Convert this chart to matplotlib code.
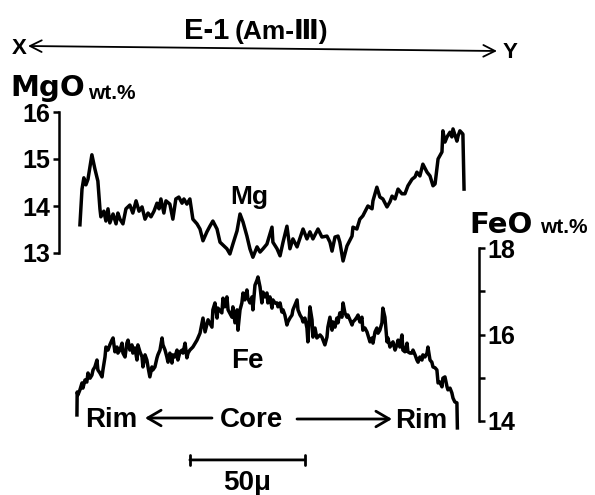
import numpy as np
import matplotlib.pyplot as plt

plt.rcParams['font.family'] = ['Liberation Sans', 'DejaVu Sans']
plt.rcParams['font.weight'] = 'bold'

# 剖面上的距离 (µm) 与 MgO wt.%
mg_dist = [1.3, 2.2, 3.0, 3.9, 4.8, 6.5, 7.8, 9.1, 10.0, 10.4, 11.7, 12.6, 13.5, 14.3,
           15.7, 17.0, 17.8, 18.7, 20.0, 21.3, 23.0, 24.3, 25.7, 27.0, 28.3, 29.6, 30.9,
           32.2, 33.5, 34.8, 35.7, 36.5, 37.8, 38.7, 40.4, 41.7, 43.0, 44.3, 45.7, 46.5,
           47.8, 49.1, 50.4, 52.2, 53.5, 54.8, 56.5, 57.8, 59.1, 60.9, 62.2, 63.9, 65.2,
           66.5, 67.8, 69.6, 70.9, 72.2, 73.9, 75.2, 76.5, 78.3, 79.6, 80.9, 82.6, 84.8,
           85.2, 87.0, 88.3, 89.6, 91.3, 92.6, 93.9, 95.7, 98.3, 100.0, 101.3, 102.6,
           104.8, 106.5, 108.7, 110.0, 110.9, 112.2, 113.5, 114.3, 115.7, 117.4, 119.6,
           120.0, 121.7, 123.0, 124.3, 126.5, 128.3, 128.7, 130.4, 131.7, 133.0, 134.8,
           136.1, 137.0, 138.3, 139.6, 141.3, 142.6, 143.9, 145.7, 147.0, 147.8, 149.1,
           150.4, 152.2, 153.5, 154.8, 155.7, 157.0, 158.7, 159.1, 160.0, 160.9, 162.2,
           163.0, 163.5, 165.2, 165.7, 166.5, 167.8, 168.3]
mg_wt = [13.60, 14.36, 14.60, 14.45, 14.57, 15.09, 14.79, 14.53, 13.94, 13.77, 13.89, 13.68,
         13.94, 13.64, 13.83, 13.62, 13.85, 13.72, 13.62, 13.94, 14.02, 13.85, 14.11, 13.89,
         13.98, 13.72, 13.85, 13.77, 13.89, 14.06, 13.94, 14.15, 13.85, 14.11, 14.04, 13.72,
         14.15, 14.19, 14.06, 14.15, 14.04, 14.15, 13.72, 13.62, 13.51, 13.26, 13.45, 13.57,
         13.68, 13.51, 13.23, 13.15, 13.09, 12.98, 13.19, 13.47, 13.83, 13.66, 13.36, 13.09,
         12.91, 13.13, 13.02, 13.09, 13.19, 13.55, 13.23, 13.09, 12.94, 13.23, 13.57, 13.09,
         13.30, 13.13, 13.51, 13.30, 13.45, 13.30, 13.51, 13.34, 13.36, 13.23, 13.04, 13.34,
         13.36, 13.23, 12.83, 13.15, 13.36, 13.55, 13.51, 13.72, 13.79, 14.00, 13.94, 14.11,
         14.40, 14.19, 14.15, 13.98, 14.09, 14.21, 14.15, 14.36, 14.26, 14.26, 14.43, 14.57,
         14.62, 14.72, 14.64, 14.89, 14.72, 14.64, 14.43, 14.47, 15.00, 15.15, 15.60, 15.36,
         15.47, 15.57, 15.47, 15.64, 15.38, 15.49, 15.60, 15.53, 14.36]

# 剖面上的距离 (µm) 与 FeO wt.%
fe_dist = [0.0, 0.1, 0.4, 1.3, 2.2, 2.6, 3.5, 4.3, 4.8, 5.7, 6.5, 7.0, 7.8, 8.7, 9.1, 10.0,
           10.9, 11.3, 12.2, 12.6, 13.5, 14.3, 15.2, 15.7, 16.5, 17.4, 17.8, 18.7, 19.6,
           20.0, 20.9, 21.7, 22.2, 23.0, 23.9, 24.3, 25.2, 26.1, 26.5, 27.4, 28.3, 28.7,
           29.6, 30.4, 30.9, 31.7, 32.6, 33.0, 33.9, 34.8, 35.2, 36.1, 37.0, 37.4, 38.3,
           39.1, 39.6, 40.4, 41.3, 41.7, 42.6, 43.5, 43.9, 44.8, 45.7, 46.1, 47.0, 47.8,
           48.3, 49.1, 50.4, 52.2, 53.5, 54.8, 55.7, 57.0, 58.7, 59.1, 60.0, 60.9, 61.3,
           63.0, 63.5, 64.3, 65.2, 65.7, 67.4, 67.8, 68.7, 69.6, 70.0, 70.9, 71.7, 72.2,
           73.0, 73.9, 74.3, 75.2, 76.1, 76.5, 77.4, 78.3, 78.7, 79.6, 80.4, 80.9, 81.7,
           82.6, 83.0, 83.9, 84.8, 85.2, 86.1, 87.0, 87.4, 88.3, 89.1, 89.6, 90.4, 91.3,
           91.7, 92.6, 93.5, 93.9, 95.7, 96.1, 97.0, 97.8, 98.3, 99.1, 100.0, 100.4, 101.3,
           102.2, 102.6, 103.5, 104.3, 105.7, 106.5, 107.0, 107.8, 108.7, 109.1, 110.0,
           110.9, 111.3, 112.2, 113.0, 113.5, 114.3, 115.2, 115.7, 116.5, 117.4, 117.8,
           118.7, 119.6, 120.0, 120.9, 121.7, 122.2, 123.0, 123.9, 124.3, 125.2, 126.1,
           126.5, 127.4, 128.3, 128.7, 129.6, 130.4, 130.9, 131.7, 132.6, 133.0, 133.9,
           134.8, 135.2, 136.1, 137.0, 137.4, 138.3, 139.1, 139.6, 140.4, 141.3, 141.7,
           142.6, 143.5, 143.9, 144.8, 145.7, 146.1, 147.0, 147.8, 148.3, 149.1, 150.0,
           150.4, 151.3, 152.2, 152.6, 153.5, 154.3, 154.8, 155.7, 156.5, 157.0, 157.8,
           158.7, 159.1, 160.0, 160.9, 161.3, 162.2, 163.0, 163.5, 164.3, 165.2, 165.4]
fe_wt = [14.14, 14.67, 14.60, 14.72, 14.88, 14.76, 14.95, 14.90, 15.11, 14.99, 15.06, 15.18,
         15.25, 15.41, 15.18, 15.11, 15.02, 15.18, 15.48, 15.71, 15.64, 15.76, 15.87, 15.92,
         15.60, 15.71, 15.57, 15.64, 15.80, 15.57, 15.48, 15.80, 15.87, 15.64, 15.76, 15.57,
         15.69, 15.41, 15.76, 15.60, 15.48, 15.25, 15.53, 15.41, 15.25, 15.02, 15.25, 15.18,
         15.25, 15.46, 15.53, 15.64, 15.92, 15.76, 15.64, 15.48, 15.36, 15.57, 15.34, 15.53,
         15.48, 15.64, 15.41, 15.60, 15.64, 15.57, 15.80, 15.46, 15.57, 15.64, 15.71, 15.87,
         16.03, 16.38, 16.06, 16.34, 16.17, 16.57, 16.73, 16.38, 16.61, 16.50, 16.84, 16.64,
         16.87, 16.57, 16.40, 16.64, 16.27, 16.57, 16.10, 16.57, 16.73, 16.96, 16.80, 17.03,
         16.84, 16.73, 16.87, 16.57, 17.14, 17.26, 17.33, 17.10, 16.73, 16.98, 16.87, 16.96,
         16.73, 16.87, 16.61, 16.80, 16.73, 16.73, 16.64, 16.73, 16.52, 16.57, 16.45, 16.22,
         16.29, 16.38, 16.45, 16.57, 16.80, 16.57, 16.45, 16.38, 16.29, 16.38, 16.15, 15.83,
         16.64, 16.34, 15.94, 16.15, 15.92, 15.99, 15.94, 15.87, 15.76, 15.94, 16.17, 16.40,
         16.10, 16.29, 16.17, 16.38, 16.27, 16.50, 16.40, 16.73, 16.50, 16.40, 16.45, 16.34,
         16.22, 16.29, 16.34, 16.40, 16.45, 16.29, 16.40, 16.10, 16.15, 16.06, 15.99, 15.83,
         15.92, 15.80, 16.06, 16.15, 16.03, 16.10, 16.27, 16.61, 16.40, 15.83, 15.92, 15.71,
         15.80, 15.83, 15.64, 15.76, 15.87, 15.71, 15.99, 15.64, 15.60, 15.80, 15.60, 15.57,
         15.57, 15.64, 15.53, 15.41, 15.36, 15.48, 15.41, 15.53, 15.48, 15.57, 15.71, 15.41,
         15.36, 15.25, 15.23, 15.18, 14.88, 14.90, 14.79, 14.99, 15.02, 14.79, 14.72, 14.76,
         14.65, 14.53, 14.44, 14.42, 13.84]

mg_ticks = [13, 14, 15, 16]
fe_ticks = [14, 16, 18]
fe_minor = [15, 17]
bar_start, bar_len = 49.1, 50   # 比例尺 50 µm

W, H = 595, 495
fig = plt.figure(figsize=(W / 100, H / 100), dpi=100)


def box(x0, y0, x1, y1):
    # 像素框 -> figure 坐标
    return [x0 / W, 1 - y1 / H, (x1 - x0) / W, (y1 - y0) / H]


xlim = (-7.8, 174.8)
wide = ['DejaVu Sans']

# 文字和箭头用的覆盖层 (像素坐标)
ov = fig.add_axes([0, 0, 1, 1])
ov.set_xlim(0, W)
ov.set_ylim(H, 0)
ov.axis('off')

# MgO
ax_mg = fig.add_axes(box(59, 112, 479, 253))
ax_mg.set_facecolor('none')
ax_mg.plot(mg_dist, mg_wt, color='k', lw=2.5, clip_on=False, solid_joinstyle='round')
ax_mg.set_xlim(xlim)
ax_mg.set_ylim(13, 16)
for s in ['top', 'right', 'bottom']:
    ax_mg.spines[s].set_visible(False)
ax_mg.spines['left'].set_linewidth(1.8)
ax_mg.set_xticks([])
ax_mg.set_yticks(mg_ticks)
ax_mg.tick_params(axis='y', direction='out', length=4, width=1.8, pad=2, labelsize=18)
ax_mg.text(74.8, 14.04, 'Mg', fontsize=19, ha='center', va='baseline')

# FeO
ax_fe = fig.add_axes(box(59, 248, 479, 421))
ax_fe.set_facecolor('none')
ax_fe.plot(fe_dist, fe_wt, color='k', lw=2.5, clip_on=False, solid_joinstyle='round')
ax_fe.set_xlim(xlim)
ax_fe.set_ylim(14, 18)
for s in ['top', 'left', 'bottom']:
    ax_fe.spines[s].set_visible(False)
ax_fe.spines['right'].set_linewidth(1.8)
ax_fe.set_xticks([])
ax_fe.yaxis.tick_right()
ax_fe.set_yticks(fe_ticks)
ax_fe.set_yticks(fe_minor, minor=True)
ax_fe.tick_params(axis='y', which='both', direction='out', length=4, width=1.8, pad=2,
                  labelsize=18)
ax_fe.text(74.3, 15.23, 'Fe', fontsize=20, ha='center', va='baseline')

# 比例尺
ax_fe.annotate('', xy=(bar_start + bar_len, 13.1), xytext=(bar_start, 13.1),
               annotation_clip=False,
               arrowprops=dict(arrowstyle='|-|,widthA=0.35,widthB=0.35', lw=2,
                               shrinkA=0, shrinkB=0))
ax_fe.text(bar_start + bar_len / 2, 12.4, '50\u03bc', fontsize=20, ha='center',
           va='baseline')

# 标题和剖面方向
ov.text(184, 39, 'E-1', fontsize=21, ha='left', va='baseline')
ov.text(235, 39, '(Am-\u2162)', fontsize=19, ha='left', va='baseline')
ov.text(12, 48, 'X', fontsize=16, ha='left', va='center')
ov.text(503, 53, 'Y', fontsize=16, ha='left', va='center')
ov.annotate('', xy=(497, 51), xytext=(28, 46),
            arrowprops=dict(arrowstyle='<->,head_length=0.6,head_width=0.3', lw=1.3,
                            shrinkA=0, shrinkB=0, mutation_scale=14))

ov.text(10, 96, 'MgO', fontsize=21, ha='left', va='baseline', family=wide)
ov.text(88, 99, 'wt.%', fontsize=15, ha='left', va='baseline')
ov.text(469, 233, 'FeO', fontsize=21, ha='left', va='baseline', family=wide)
ov.text(540, 233, 'wt.%', fontsize=15, ha='left', va='baseline')

# Rim <- Core -> Rim
ov.text(85, 427, 'Rim', fontsize=20, ha='left', va='baseline')
ov.annotate('', xy=(145, 418), xytext=(212, 418),
            arrowprops=dict(arrowstyle='->,head_length=0.6,head_width=0.35', lw=2,
                            shrinkA=0, shrinkB=0, mutation_scale=16))
ov.text(220, 427, 'Core', fontsize=20, ha='left', va='baseline')
ov.annotate('', xy=(392, 419), xytext=(297, 419),
            arrowprops=dict(arrowstyle='->,head_length=0.6,head_width=0.35', lw=2,
                            shrinkA=0, shrinkB=0, mutation_scale=16))
ov.text(395, 428, 'Rim', fontsize=20, ha='left', va='baseline')

fig.savefig('out.png', dpi=100)
